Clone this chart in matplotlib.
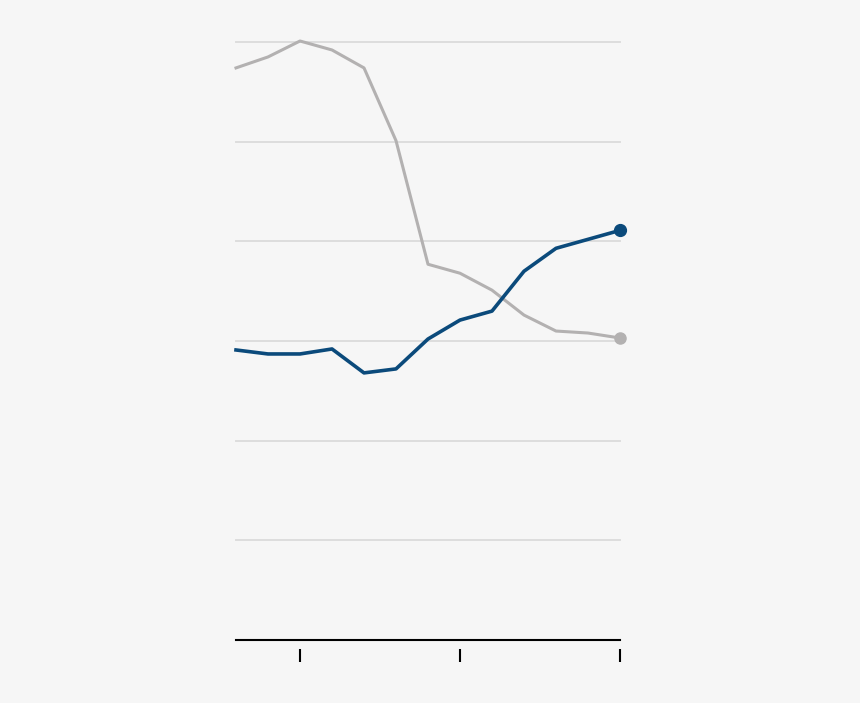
import matplotlib.pyplot as plt

# data
years = list(range(2000, 2013))
gray_vals = [57.4, 58.5, 60.1, 59.2, 57.4, 50.1, 37.7, 36.8, 35.1, 32.6, 31.0, 30.8, 30.3]
blue_vals = [29.1, 28.7, 28.7, 29.2, 26.8, 27.2, 30.2, 32.1, 33.0, 37.0, 39.3, 40.2, 41.1]
tick_years = [2002, 2007, 2012]

bg = '#f6f6f6'
fig = plt.figure(figsize=(8.6, 7.03), dpi=100, facecolor=bg)
ax = fig.add_axes([236/860, 63/703, 384/860, 598/703], facecolor=bg)

for v in [10, 20, 30, 40, 50, 60]:
    ax.axhline(v, color='#dddddd', lw=1.4, zorder=1, clip_on=False)

ax.plot(years, gray_vals, color='#b3b1b1', lw=2.2, zorder=2, clip_on=False)
ax.plot(years[-1], gray_vals[-1], 'o', color='#b3b1b1', ms=8, zorder=3, clip_on=False)
ax.plot(years, blue_vals, color='#0b4a7b', lw=2.6, zorder=4, clip_on=False)
ax.plot(years[-1], blue_vals[-1], 'o', color='#0b4a7b', ms=8.5, zorder=5, clip_on=False)

ax.axhline(0, color='black', lw=1.5, zorder=3, clip_on=False)

ax.set_xlim(2000, 2012)
ax.set_ylim(0, 60)

for s in ['top', 'right', 'left']:
    ax.spines[s].set_visible(False)
ax.spines['bottom'].set_position(('outward', 6.5))
ax.spines['bottom'].set_color('none')

ax.set_xticks(tick_years)
ax.set_xticklabels([])
ax.tick_params(axis='x', direction='out', length=9.4, width=1.5, color='black')
ax.set_yticks([])

fig.savefig('out.png', dpi=100, facecolor=bg)
